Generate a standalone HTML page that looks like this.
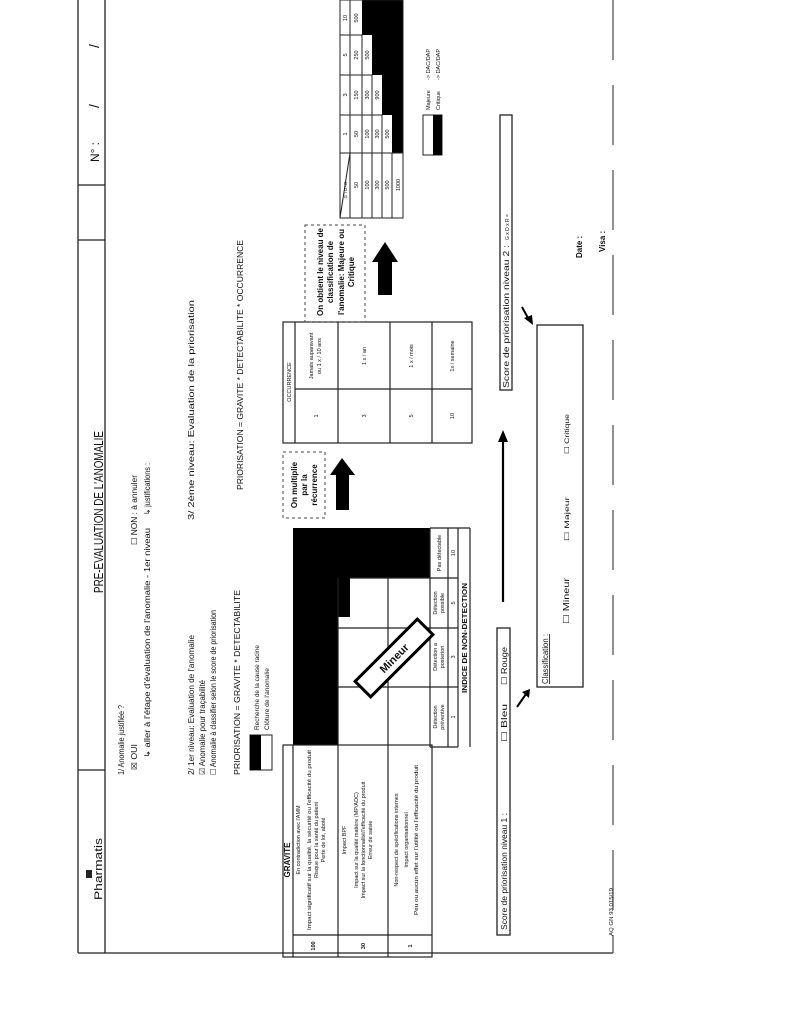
<!DOCTYPE html>
<html><head><meta charset="utf-8"><style>
html,body{margin:0;padding:0;background:#fff;}
svg{display:block;}
text{font-family:"Liberation Sans",sans-serif;fill:#111;}
</style></head><body>
<svg width="791" height="1024" viewBox="0 0 791 1024" xmlns="http://www.w3.org/2000/svg">
<rect width="791" height="1024" fill="#fff"/>
<g stroke="#222" stroke-width="1.3" fill="none">
  <line x1="78" y1="0" x2="78" y2="953"/>
  <line x1="105" y1="0" x2="105" y2="953"/>
  <line x1="78" y1="953" x2="613" y2="953"/>
  <line x1="78" y1="770" x2="105" y2="770"/>
  <line x1="78" y1="240" x2="105" y2="240"/>
  <line x1="78" y1="185" x2="105" y2="185"/>
  <line x1="613" y1="0" x2="613" y2="953" stroke="#555" stroke-dasharray="60,25"/>
</g>
<text transform="translate(102,900) rotate(-90)" font-size="11" fill="#555" textLength="62" lengthAdjust="spacingAndGlyphs">Pharmatis</text>
<rect x="86" y="870" width="6" height="8" fill="#222"/>
<text transform="translate(103,593) rotate(-90)" font-size="13" textLength="162" lengthAdjust="spacingAndGlyphs">PRE-EVALUATION DE L'ANOMALIE</text>
<text transform="translate(99,162) rotate(-90)" font-size="12" textLength="20" lengthAdjust="spacingAndGlyphs">N° :</text>
<text transform="translate(99,108) rotate(-90)" font-size="14">/</text>
<text transform="translate(99,48) rotate(-90)" font-size="14">/</text>

<g font-size="8">
<text transform="translate(124,775) rotate(-90)" textLength="70" lengthAdjust="spacingAndGlyphs">1/  Anomalie justifiée ?</text>
<text transform="translate(137,770) rotate(-90)" textLength="26" lengthAdjust="spacingAndGlyphs">☒ OUI</text>
<text transform="translate(150,758) rotate(-90)" textLength="230" lengthAdjust="spacingAndGlyphs">↳ aller à l'étape d'évaluation de l'anomalie - 1er  niveau</text>
<text transform="translate(137,545) rotate(-90)" textLength="70" lengthAdjust="spacingAndGlyphs">☐ NON : à annuler</text>
<text transform="translate(150,515) rotate(-90)" textLength="52" lengthAdjust="spacingAndGlyphs">↳ justifications :</text>
<text transform="translate(194,775) rotate(-90)" textLength="140" lengthAdjust="spacingAndGlyphs">2/  1er niveau: Evaluation de l'anomalie</text>
<text transform="translate(205,775) rotate(-90)" textLength="95" lengthAdjust="spacingAndGlyphs">☑  Anomalie pour traçabilité</text>
<text transform="translate(216,775) rotate(-90)" textLength="165" lengthAdjust="spacingAndGlyphs">☐ Anomalie à classifier selon le score de priorisation</text>
<text transform="translate(240,775) rotate(-90)" textLength="185" lengthAdjust="spacingAndGlyphs">PRIORISATION = GRAVITE * DETECTABILITE</text>
<text transform="translate(194,520) rotate(-90)" textLength="220" lengthAdjust="spacingAndGlyphs">3/  2ème niveau: Evaluation de la priorisation</text>
<text transform="translate(243,490) rotate(-90)" textLength="250" lengthAdjust="spacingAndGlyphs">PRIORISATION = GRAVITE * DETECTABILITE * OCCURRENCE</text>
</g>
<rect x="250" y="735" width="22" height="35" fill="#fff" stroke="#222"/>
<rect x="250" y="735" width="11" height="35" fill="#000"/>
<text transform="translate(259,730) rotate(-90)" font-size="6" textLength="85" lengthAdjust="spacingAndGlyphs">Recherche de la cause racine</text>
<text transform="translate(269,730) rotate(-90)" font-size="6" textLength="62" lengthAdjust="spacingAndGlyphs">Clôture de l'anomalie</text>

<rect x="293" y="528" width="137" height="50" fill="#000"/>
<rect x="293" y="528" width="45" height="217" fill="#000"/>
<rect x="338" y="578" width="12" height="39" fill="#000"/>
<g stroke="#222" stroke-width="1.2" fill="none">
  <rect x="283" y="745" width="149" height="212"/>
  <line x1="293" y1="745" x2="293" y2="957"/>
  <line x1="338" y1="745" x2="338" y2="957"/>
  <line x1="388" y1="745" x2="388" y2="957"/>
  <line x1="293" y1="935" x2="432" y2="935"/>
  <line x1="338" y1="578" x2="338" y2="745"/>
  <line x1="388" y1="578" x2="388" y2="745"/>
  <line x1="430" y1="528" x2="430" y2="747"/>
  <line x1="448" y1="528" x2="448" y2="747"/>
  <line x1="458" y1="528" x2="458" y2="747"/>
  <line x1="470" y1="528" x2="470" y2="747"/>
  <line x1="350" y1="578" x2="458" y2="578"/>
  <line x1="338" y1="628" x2="458" y2="628"/>
  <line x1="338" y1="687" x2="458" y2="687"/>
  <line x1="430" y1="747" x2="458" y2="747"/>
  <line x1="430" y1="528" x2="470" y2="528"/>
</g>
<g font-size="5.5">
<text transform="translate(290,860) rotate(-90)" font-size="8" font-weight="bold" text-anchor="middle">GRAVITE</text>
<text transform="translate(300,840) rotate(-90)" text-anchor="middle">En contradiction avec l'AMM</text>
<text transform="translate(311,840) rotate(-90)" text-anchor="middle" textLength="180" lengthAdjust="spacingAndGlyphs">Impact significatif sur la qualité, la sécurité ou l'efficacité du produit</text>
<text transform="translate(318,840) rotate(-90)" text-anchor="middle">Risque pour la santé du patient</text>
<text transform="translate(325,840) rotate(-90)" text-anchor="middle">Perte de lot, aboté</text>
<text transform="translate(346,840) rotate(-90)" text-anchor="middle">Impact BPF</text>
<text transform="translate(358,840) rotate(-90)" text-anchor="middle">Impact sur la qualité matière (MP/ADC)</text>
<text transform="translate(365,840) rotate(-90)" text-anchor="middle">Impact sur la fonctionnalité/l'efficacité du produit</text>
<text transform="translate(372,840) rotate(-90)" text-anchor="middle">Erreur de saisie</text>
<text transform="translate(398,840) rotate(-90)" text-anchor="middle">Non-respect de spécifications internes</text>
<text transform="translate(408,840) rotate(-90)" text-anchor="middle">Impact organisationnel</text>
<text transform="translate(418,840) rotate(-90)" text-anchor="middle" textLength="150" lengthAdjust="spacingAndGlyphs">Peu ou aucun effet sur l'utilité ou l'efficacité du produit</text>
<text transform="translate(315,946) rotate(-90)" text-anchor="middle" font-weight="bold">100</text>
<text transform="translate(365,946) rotate(-90)" text-anchor="middle" font-weight="bold">30</text>
<text transform="translate(412,946) rotate(-90)" text-anchor="middle" font-weight="bold">1</text>
<text transform="translate(441,553) rotate(-90)" text-anchor="middle">Pas détectable</text>
<text transform="translate(437,603) rotate(-90)" text-anchor="middle">Détection</text>
<text transform="translate(444,603) rotate(-90)" text-anchor="middle">possible</text>
<text transform="translate(437,657) rotate(-90)" text-anchor="middle">Détection a</text>
<text transform="translate(444,657) rotate(-90)" text-anchor="middle">posteriori</text>
<text transform="translate(437,717) rotate(-90)" text-anchor="middle">Détection</text>
<text transform="translate(444,717) rotate(-90)" text-anchor="middle">préventive</text>
<text transform="translate(455,553) rotate(-90)" text-anchor="middle">10</text>
<text transform="translate(455,603) rotate(-90)" text-anchor="middle">5</text>
<text transform="translate(455,657) rotate(-90)" text-anchor="middle">3</text>
<text transform="translate(455,717) rotate(-90)" text-anchor="middle">1</text>
<text transform="translate(467,638) rotate(-90)" text-anchor="middle" font-size="7.5" font-weight="bold" textLength="110" lengthAdjust="spacingAndGlyphs">INDICE DE NON-DETECTION</text>
</g>
<g transform="translate(394,658) rotate(-45)">
<rect x="-44" y="-11" width="88" height="22" fill="#fff" stroke="#000" stroke-width="3"/>
<text x="0" y="4" font-size="11" font-weight="bold" text-anchor="middle">Mineur</text>
</g>

<g stroke="#222" stroke-width="1.2" fill="none">
  <rect x="283" y="322" width="189" height="121"/>
  <line x1="295" y1="322" x2="295" y2="443"/>
  <line x1="338" y1="322" x2="338" y2="443"/>
  <line x1="390" y1="322" x2="390" y2="443"/>
  <line x1="432" y1="322" x2="432" y2="443"/>
  <line x1="295" y1="389" x2="472" y2="389"/>
</g>
<g font-size="5.5">
<text transform="translate(291,382) rotate(-90)" text-anchor="middle">OCCURRENCE</text>
<text transform="translate(313,356) rotate(-90)" text-anchor="middle">Jamais auparavant</text>
<text transform="translate(321,356) rotate(-90)" text-anchor="middle">ou 1 x / 10 ans</text>
<text transform="translate(366,356) rotate(-90)" text-anchor="middle">1 x / an</text>
<text transform="translate(413,356) rotate(-90)" text-anchor="middle">1 x / mois</text>
<text transform="translate(454,356) rotate(-90)" text-anchor="middle">1x / semaine</text>
<text transform="translate(318,416) rotate(-90)" text-anchor="middle">1</text>
<text transform="translate(366,416) rotate(-90)" text-anchor="middle">3</text>
<text transform="translate(413,416) rotate(-90)" text-anchor="middle">5</text>
<text transform="translate(454,416) rotate(-90)" text-anchor="middle">10</text>
</g>

<rect x="283" y="452" width="42" height="66" fill="none" stroke="#444" stroke-dasharray="3,3"/>
<g font-size="8" font-weight="bold">
<text transform="translate(297,485) rotate(-90)" text-anchor="middle">On multiplie</text>
<text transform="translate(307,485) rotate(-90)" text-anchor="middle">par la</text>
<text transform="translate(317,485) rotate(-90)" text-anchor="middle">récurrence</text>
</g>
<polygon points="336,510 349,510 349,475 355,475 342,458 330,475 336,475" fill="#000"/>

<rect x="305" y="225" width="60" height="97" fill="none" stroke="#444" stroke-dasharray="3,3"/>
<g font-size="8" font-weight="bold">
<text transform="translate(323,272) rotate(-90)" text-anchor="middle">On obtient le niveau de</text>
<text transform="translate(333,272) rotate(-90)" text-anchor="middle">classification de</text>
<text transform="translate(344,272) rotate(-90)" text-anchor="middle">l'anomalie:  Majeure ou</text>
<text transform="translate(354,272) rotate(-90)" text-anchor="middle">Critique</text>
</g>
<polygon points="378,295 392,295 392,262 398,262 385,242 372,262 378,262" fill="#000"/>

<rect x="362" y="0" width="41" height="35" fill="#000"/>
<rect x="372" y="0" width="31" height="75" fill="#000"/>
<rect x="382" y="0" width="21" height="115" fill="#000"/>
<rect x="392" y="0" width="11" height="153" fill="#000"/>
<g stroke="#222" stroke-width="1" fill="none">
  <rect x="340" y="0" width="63" height="218"/>
  <line x1="350" y1="0" x2="350" y2="218"/>
  <line x1="362" y1="35" x2="362" y2="218"/>
  <line x1="372" y1="75" x2="372" y2="218"/>
  <line x1="382" y1="115" x2="382" y2="218"/>
  <line x1="392" y1="153" x2="392" y2="218"/>
  <line x1="340" y1="35" x2="362" y2="35"/>
  <line x1="340" y1="75" x2="372" y2="75"/>
  <line x1="340" y1="115" x2="382" y2="115"/>
  <line x1="340" y1="153" x2="403" y2="153"/>
  <line x1="340" y1="218" x2="350" y2="153"/>
</g>
<g font-size="5.5" text-anchor="middle">
<text transform="translate(347,18) rotate(-90)">10</text>
<text transform="translate(347,55) rotate(-90)">5</text>
<text transform="translate(347,95) rotate(-90)">3</text>
<text transform="translate(347,134) rotate(-90)">1</text>
<text transform="translate(347,190) rotate(-90)" font-size="4.5">G \ D×O</text>
<text transform="translate(358,18) rotate(-90)">500</text>
<text transform="translate(358,55) rotate(-90)">250</text>
<text transform="translate(358,95) rotate(-90)">150</text>
<text transform="translate(358,134) rotate(-90)">50</text>
<text transform="translate(358,185) rotate(-90)">50</text>
<text transform="translate(369,55) rotate(-90)">500</text>
<text transform="translate(369,95) rotate(-90)">300</text>
<text transform="translate(369,134) rotate(-90)">100</text>
<text transform="translate(369,185) rotate(-90)">100</text>
<text transform="translate(379,95) rotate(-90)">900</text>
<text transform="translate(379,134) rotate(-90)">300</text>
<text transform="translate(379,185) rotate(-90)">300</text>
<text transform="translate(389,134) rotate(-90)">500</text>
<text transform="translate(389,185) rotate(-90)">500</text>
<text transform="translate(400,185) rotate(-90)">1000</text>
</g>
<rect x="423" y="115" width="19" height="40" fill="#fff" stroke="#222"/>
<rect x="433" y="115" width="9" height="40" fill="#000"/>
<g font-size="5.5">
<text transform="translate(430,110) rotate(-90)">Majeure</text>
<text transform="translate(440,110) rotate(-90)">Critique</text>
<text transform="translate(430,80) rotate(-90)">-&gt; DAC/DAP</text>
<text transform="translate(440,80) rotate(-90)">-&gt; DAC/DAP</text>
</g>

<rect x="497" y="628" width="13" height="307" fill="none" stroke="#222" stroke-width="1.3"/>
<g font-size="8">
<text transform="translate(507,930) rotate(-90)" textLength="117" lengthAdjust="spacingAndGlyphs">Score de priorisation niveau 1 :</text>
<text transform="translate(507,742) rotate(-90)" textLength="38" lengthAdjust="spacingAndGlyphs">☐    Bleu</text>
<text transform="translate(507,685) rotate(-90)" textLength="38" lengthAdjust="spacingAndGlyphs">☐    Rouge</text>
</g>
<rect x="500" y="115" width="12" height="275" fill="none" stroke="#222" stroke-width="1.3"/>
<text transform="translate(509,388) rotate(-90)" font-size="8" textLength="143" lengthAdjust="spacingAndGlyphs">Score de priorisation niveau 2 :</text>
<text transform="translate(509,240) rotate(-90)" font-size="5">G x D x R =</text>

<line x1="503" y1="602" x2="503" y2="440" stroke="#000" stroke-width="2.2"/>
<polygon points="498,442 508,442 503,430" fill="#000"/>
<line x1="517" y1="707" x2="526" y2="694" stroke="#000" stroke-width="2"/>
<polygon points="522,692 530,689 529,698" fill="#000"/>
<line x1="522" y1="307" x2="528" y2="318" stroke="#000" stroke-width="2"/>
<polygon points="524,318 533,325 532,315" fill="#000"/>

<rect x="537" y="325" width="46" height="362" fill="none" stroke="#222" stroke-width="1.3"/>
<g font-size="8">
<text transform="translate(548,684) rotate(-90)" text-decoration="underline" textLength="50" lengthAdjust="spacingAndGlyphs">Classification :</text>
<text transform="translate(569,624) rotate(-90)" textLength="46" lengthAdjust="spacingAndGlyphs">☐  Mineur</text>
<text transform="translate(569,541) rotate(-90)" font-size="6.5" textLength="44" lengthAdjust="spacingAndGlyphs">☐   Majeur</text>
<text transform="translate(569,454) rotate(-90)" font-size="6.5" textLength="40" lengthAdjust="spacingAndGlyphs">☐  Critique</text>
<text transform="translate(582,258) rotate(-90)" font-weight="bold">Date :</text>
<text transform="translate(605,252) rotate(-90)" font-weight="bold">Visa :</text>
</g>
<text transform="translate(613,936) rotate(-90)" font-size="5.5" textLength="48" lengthAdjust="spacingAndGlyphs">AQ GN 93 015/19</text>
</svg>
</body></html>
